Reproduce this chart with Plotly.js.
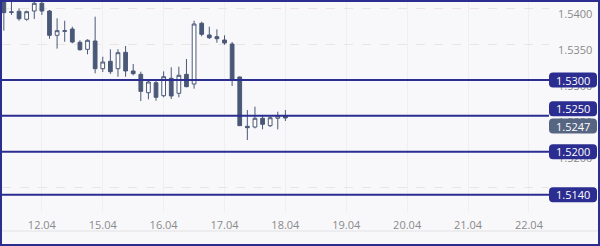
<!DOCTYPE html>
<html>
<head>
<meta charset="utf-8">
<script src="https://cdn.plot.ly/plotly-3.0.1.min.js"></script>
<style>
  html, body { margin: 0; padding: 0; background: #f8f8fa; }
  #frame { width: 600px; height: 246px; box-sizing: border-box; border: 2px solid #2b2e8e; background: #f8f8fa; }
  #chart { width: 596px; height: 242px; }
</style>
</head>
<body>
<div id="frame"><div id="chart"></div></div>
<script>
// ---- data ----
const candleIndex = [];
for (let i = 0; i < 38; i++) candleIndex.push(i);

const openP  = [1.54158,1.53951,1.53958,1.53847,1.53962,1.54070,1.53962,1.53623,1.53688,1.53711,
                1.53526,1.53428,1.53544,1.53158,1.53261,1.53158,1.53386,1.53126,1.53079,1.52823,
                1.52962,1.52781,1.53024,1.52815,1.53079,1.52944,1.53791,1.53628,1.53604,1.53558,
                1.53502,1.53042,1.52354,1.52344,1.52466,1.52363,1.52466,1.52498];
const highP  = [1.54185,1.54144,1.54000,1.53967,1.54102,1.54102,1.53976,1.53861,1.53827,1.53743,
                1.53554,1.53568,1.53883,1.53325,1.53428,1.53428,1.53474,1.53223,1.53116,1.53000,
                1.52990,1.53121,1.53177,1.53185,1.53293,1.53827,1.53813,1.53743,1.53707,1.53623,
                1.53530,1.53049,1.52582,1.52628,1.52508,1.52498,1.52558,1.52582];
const lowP   = [1.53688,1.53907,1.53827,1.53827,1.53851,1.53907,1.53576,1.53437,1.53534,1.53512,
                1.53409,1.53358,1.53093,1.53112,1.53084,1.53046,1.53046,1.53066,1.52707,1.52731,
                1.52711,1.52759,1.52735,1.52759,1.52898,1.52879,1.53609,1.53572,1.53520,1.53492,
                1.52916,1.52358,1.52163,1.52326,1.52312,1.52344,1.52312,1.52428];
const closeP = [1.53939,1.53944,1.53855,1.53953,1.54070,1.53962,1.53623,1.53688,1.53681,1.53530,
                1.53423,1.53554,1.53158,1.53251,1.53116,1.53381,1.53126,1.53088,1.52842,1.52972,
                1.52759,1.53046,1.52777,1.53066,1.52907,1.53781,1.53637,1.53590,1.53576,1.53516,
                1.53010,1.52363,1.52335,1.52466,1.52382,1.52474,1.52498,1.52470];

const dateTickPos    = [5, 13, 21, 29, 37, 45, 53, 61, 69];
const dateTickLabels = ['12.04','15.04','16.04','17.04','18.04','19.04','20.04','21.04','22.04'];

const levelPrices = [1.5300, 1.5250, 1.5200, 1.5140];
const levelLabels = ['1.5300','1.5250','1.5200','1.5140'];
const lastPrice = 1.5247;
const lastPriceLabel = '1.5247';

// ---- styles ----
const NAVY = '#2b2e90';
const SLATE = '#566682';
const CANDLE = '#4a5877';
const badgeShift = {'1.5250': 7};   // pixel shifts to avoid overlap
const lastShift = -8;

function roundRect(x0, x1, y0, y1, r) {
  return `M${x0 + r},${y0} L${x1 - r},${y0} Q${x1},${y0} ${x1},${y0 + r} L${x1},${y1 - r} Q${x1},${y1} ${x1 - r},${y1} L${x0 + r},${y1} Q${x0},${y1} ${x0},${y1 - r} L${x0},${y0 + r} Q${x0},${y0} ${x0 + r},${y0} Z`;
}

const shapes = [];
const annotations = [];

function addBadge(price, label, color, shift) {
  shapes.push({
    type: 'path', xref: 'paper', xanchor: 1, xsizemode: 'pixel',
    yref: 'y', yanchor: price, ysizemode: 'pixel',
    path: roundRect(0, 48, shift - 7.5, shift + 7.5, 4),
    fillcolor: color, line: {width: 0}, layer: 'above'
  });
  annotations.push({
    xref: 'paper', x: 1, xanchor: 'center', xshift: 24,
    yref: 'y', y: price, yanchor: 'middle', yshift: shift,
    text: label, showarrow: false,
    font: {family: 'Open Sans, DejaVu Sans, sans-serif', size: 11, color: '#ffffff'}
  });
}

levelPrices.forEach((p, k) => {
  shapes.push({
    type: 'line', xref: 'paper', x0: 0, x1: 1, yref: 'y', y0: p, y1: p,
    line: {color: NAVY, width: 2}, layer: 'above'
  });
  addBadge(p, levelLabels[k], NAVY, badgeShift[levelLabels[k]] || 0);
});
addBadge(lastPrice, lastPriceLabel, SLATE, lastShift);

// separator line under the date labels
shapes.push({
  type: 'line', xref: 'paper', x0: 0, x1: 596 / 547, yref: 'paper', y0: -19 / 210, y1: -19 / 210,
  line: {color: '#e2e2e6', width: 1}
});

const trace = {
  type: 'candlestick',
  x: candleIndex, open: openP, high: highP, low: lowP, close: closeP,
  increasing: {line: {color: CANDLE, width: 1}, fillcolor: '#ffffff'},
  decreasing: {line: {color: CANDLE, width: 1}, fillcolor: CANDLE},
  whiskerwidth: 0,
  hoverinfo: 'skip',
  showlegend: false
};

const layout = {
  width: 596, height: 242,
  margin: {l: 0, r: 49, t: 0, b: 32},
  paper_bgcolor: '#f8f8fa', plot_bgcolor: '#f8f8fa',
  showlegend: false,
  xaxis: {
    range: [-0.24, 71.64],
    rangeslider: {visible: false},
    tickmode: 'array', tickvals: dateTickPos, ticktext: dateTickLabels,
    showgrid: true, gridcolor: '#efeff2', gridwidth: 1,
    zeroline: false, showline: false, ticks: '',
    ticklabelstandoff: 5,
    tickfont: {family: 'Open Sans, DejaVu Sans, sans-serif', size: 11, color: '#8a8a8a'},
    fixedrange: true
  },
  yaxis: {
    side: 'right',
    range: [1.51159, 1.54088],
    tick0: 1.5, dtick: 0.005, tickformat: '.4f',
    showgrid: true, gridcolor: '#ebe4e2', griddash: 'dash', gridwidth: 1,
    zeroline: false, showline: false, ticks: '',
    ticklabelstandoff: 8, ticklabelshift: 6,
    tickfont: {family: 'Open Sans, DejaVu Sans, sans-serif', size: 11, color: '#8a8a8a'},
    fixedrange: true
  },
  shapes: shapes,
  annotations: annotations
};

Plotly.newPlot('chart', [trace], layout, {displayModeBar: false, staticPlot: true});
</script>
</body>
</html>
